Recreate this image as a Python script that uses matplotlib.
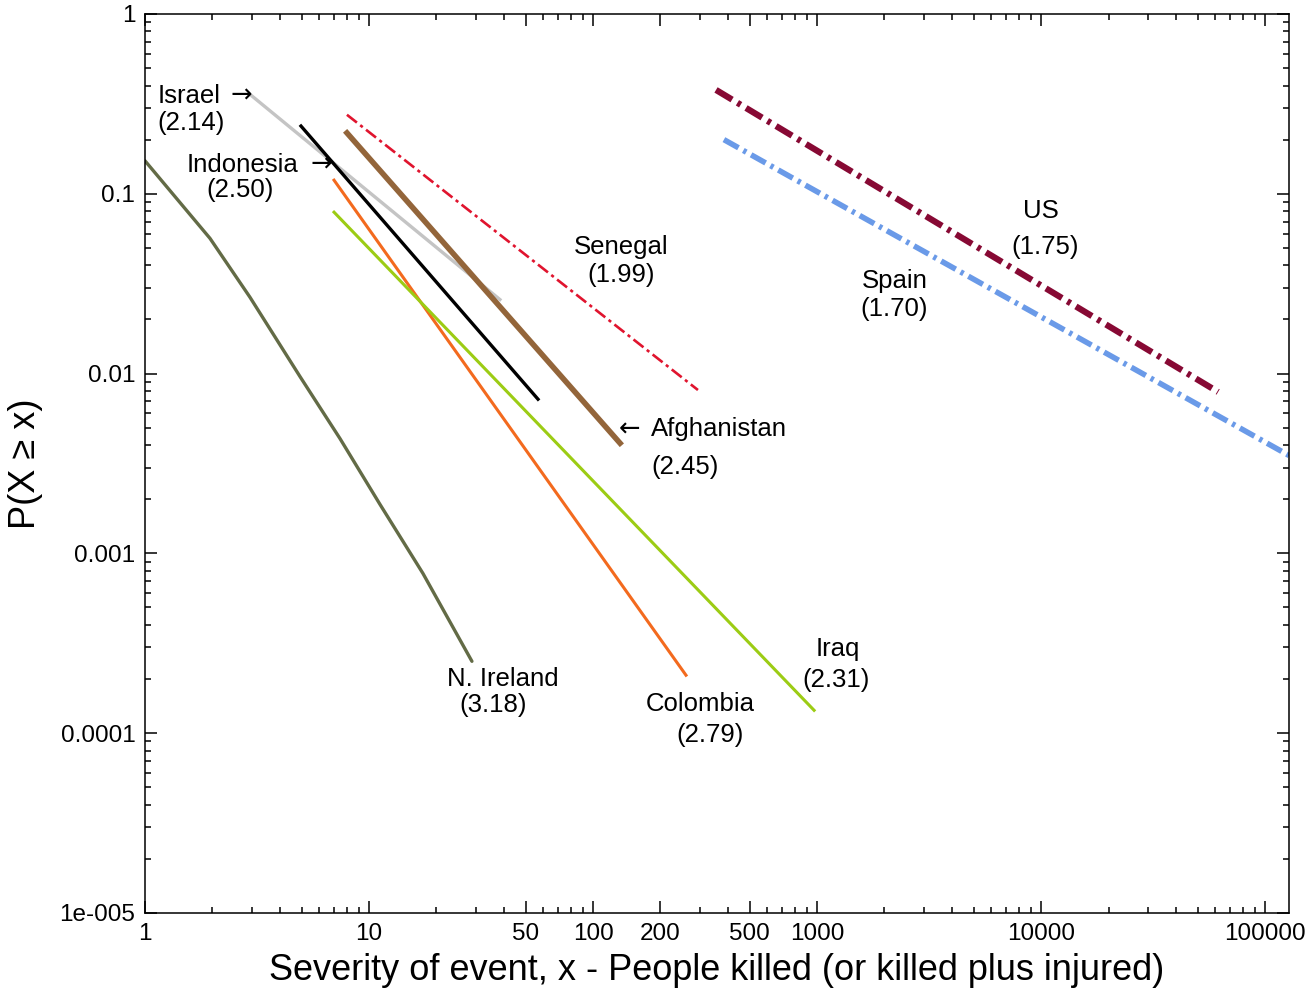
import numpy as np
import matplotlib
matplotlib.use("Agg")
import matplotlib.pyplot as plt
from matplotlib.ticker import FixedLocator, FixedFormatter, NullFormatter

plt.rcParams['font.family'] = ['Liberation Sans', 'DejaVu Sans']

# lines (x = severity, y = P(X >= x))
nireland_x = [1.0, 1.95, 2.94, 4.92, 7.42, 11.2, 17.4, 28.8]
nireland_y = [0.1525, 0.0565, 0.0266, 0.00962, 0.00435, 0.00187, 0.000774, 0.000251]
israel_x = [3.0, 38.4]
israel_y = [0.35, 0.0258]
indonesia_x = [4.97, 56.8]
indonesia_y = [0.238, 0.0072]
afghan_x = [7.97, 132.0]
afghan_y = [0.218, 0.0041]
senegal_x = [7.97, 294.0]
senegal_y = [0.275, 0.0081]
colombia_x = [6.98, 260.0]
colombia_y = [0.119, 0.00021]
iraq_x = [6.98, 970.0]
iraq_y = [0.079, 0.000134]
us_x = [354.0, 61700.0]
us_y = [0.378, 0.0079]
spain_x = [384.0, 128000.0]
spain_y = [0.2, 0.0035]

xticks = [1, 10, 50, 100, 200, 500, 1000, 10000, 100000]
xticklabels = ['1', '10', '50', '100', '200', '500', '1000', '10000', '100000']
yticks = [1e-5, 1e-4, 1e-3, 1e-2, 1e-1, 1]
yticklabels = ['1e-005', '0.0001', '0.001', '0.01', '0.1', '1']

fig = plt.figure(figsize=(13.11, 9.97), dpi=100)
ax = fig.add_axes([0.1106, 0.0843, 0.8727, 0.9017])
ax.set_xscale('log')
ax.set_yscale('log')

ax.plot(nireland_x, nireland_y, color='#636b46', lw=2.4, solid_capstyle='round', solid_joinstyle='round')
ax.plot(israel_x, israel_y, color='#c4c4c4', lw=2.4)
ax.plot(indonesia_x, indonesia_y, color='black', lw=2.4)
ax.plot(afghan_x, afghan_y, color='#93653a', lw=4.0)
ax.plot(senegal_x, senegal_y, color='#e0142e', lw=1.9, dashes=(4.8, 1.6, 1.2, 1.6))
ax.plot(colombia_x, colombia_y, color='#f36a1e', lw=2.2)
ax.plot(iraq_x, iraq_y, color='#9ccc14', lw=2.2)
ax.plot(us_x, us_y, color='#870934', lw=4.5, dashes=(3.0, 1.0, 0.6, 1.0))
ax.plot(spain_x, spain_y, color='#6a9ae8', lw=4.0, dashes=(3.0, 1.0, 0.6, 1.0))

ax.set_xlim(1, 128000)
ax.set_ylim(1e-5, 1)

minor_x = [m * 10 ** d for d in range(0, 6) for m in range(2, 10)]
minor_x = [v for v in minor_x if v not in xticks and v < 128000]
ax.xaxis.set_major_locator(FixedLocator(xticks))
ax.xaxis.set_major_formatter(FixedFormatter(xticklabels))
ax.xaxis.set_minor_locator(FixedLocator(minor_x))
ax.xaxis.set_minor_formatter(NullFormatter())
minor_y = [m * 10 ** d for d in range(-5, 0) for m in range(2, 10)]
ax.yaxis.set_major_locator(FixedLocator(yticks))
ax.yaxis.set_major_formatter(FixedFormatter(yticklabels))
ax.yaxis.set_minor_locator(FixedLocator(minor_y))
ax.yaxis.set_minor_formatter(NullFormatter())

ax.tick_params(which='both', direction='in', top=True, right=True, width=1.1, labelsize=17.5)
ax.tick_params(which='major', length=8.5, pad=7)
ax.tick_params(which='minor', length=4.3)
for s in ax.spines.values():
    s.set_linewidth(1.1)

ax.set_xlabel('Severity of event, x - People killed (or killed plus injured)', fontsize=26, labelpad=6)
ax.set_ylabel('P(X \u2265 x)', fontsize=26, labelpad=12)

fs = 18.5
arrow_font = ['DejaVu Sans']
ax.text(1.14, 0.35, 'Israel', fontsize=fs, ha='left', va='center')
ax.text(2.68, 0.35, '\u2192', fontsize=fs, ha='center', va='center', family=arrow_font)
ax.text(1.6, 0.248, '(2.14)', fontsize=fs, ha='center', va='center')
ax.text(1.53, 0.145, 'Indonesia', fontsize=fs, ha='left', va='center')
ax.text(6.1, 0.145, '\u2192', fontsize=fs, ha='center', va='center', family=arrow_font)
ax.text(2.66, 0.105, '(2.50)', fontsize=fs, ha='center', va='center')
ax.text(134, 0.0508, 'Senegal', fontsize=fs, ha='center', va='center')
ax.text(134, 0.0355, '(1.99)', fontsize=fs, ha='center', va='center')
ax.text(146, 0.00489, '\u2190', fontsize=fs, ha='center', va='center', family=arrow_font)
ax.text(181, 0.00489, 'Afghanistan', fontsize=fs, ha='left', va='center')
ax.text(258, 0.00304, '(2.45)', fontsize=fs, ha='center', va='center')
ax.text(10000, 0.0805, 'US', fontsize=fs, ha='center', va='center')
ax.text(10400, 0.0508, '(1.75)', fontsize=fs, ha='center', va='center')
ax.text(2213, 0.0329, 'Spain', fontsize=fs, ha='center', va='center')
ax.text(2213, 0.023, '(1.70)', fontsize=fs, ha='center', va='center')
ax.text(39.6, 2.0e-4, 'N. Ireland', fontsize=fs, ha='center', va='center')
ax.text(35.7, 1.43e-4, '(3.18)', fontsize=fs, ha='center', va='center')
ax.text(300, 1.45e-4, 'Colombia', fontsize=fs, ha='center', va='center')
ax.text(333, 9.75e-5, '(2.79)', fontsize=fs, ha='center', va='center')
ax.text(1239, 2.93e-4, 'Iraq', fontsize=fs, ha='center', va='center')
ax.text(1213, 1.97e-4, '(2.31)', fontsize=fs, ha='center', va='center')

fig.savefig('out.png', dpi=100)
